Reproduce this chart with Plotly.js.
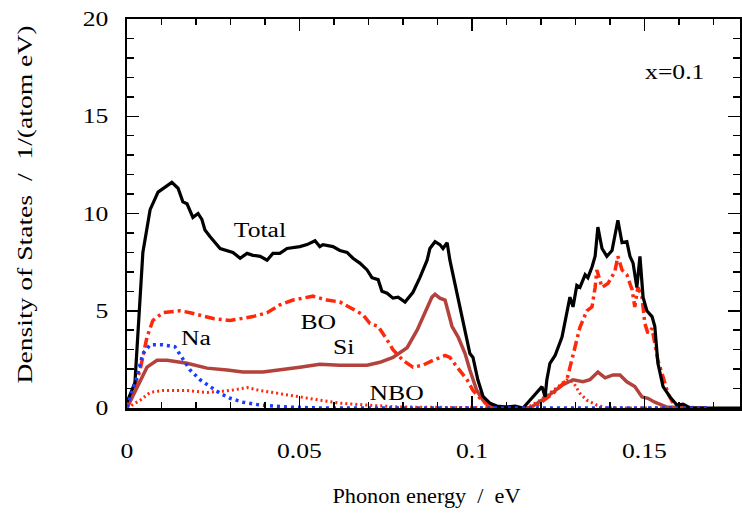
<!DOCTYPE html>
<html><head><meta charset="utf-8">
<script src="https://cdn.plot.ly/plotly-3.0.1.min.js"></script>
<style>html,body{margin:0;padding:0;background:#fff}#plot{width:742px;height:520px}</style>
</head><body><div id="plot"></div>
<script>
// Total DOS
const totalX = [0,0.0023,0.0046,0.0067,0.009,0.013,0.0148,0.0162,0.0174,0.0191,0.0206,0.0217,0.0226,0.0241,0.027,0.029,0.0307,0.0328,0.0348,0.0365,0.0386,0.0406,0.0423,0.0443,0.0464,0.0501,0.0522,0.0545,0.0559,0.0568,0.0597,0.0617,0.0638,0.0655,0.0675,0.0696,0.071,0.0728,0.0739,0.0754,0.0771,0.0786,0.0806,0.0829,0.0849,0.087,0.0878,0.0893,0.0907,0.0916,0.0928,0.0936,0.0951,0.0965,0.098,0.0994,0.1003,0.1017,0.1032,0.1052,0.1072,0.1101,0.1125,0.1148,0.1168,0.1191,0.1203,0.1212,0.1217,0.1226,0.1241,0.1261,0.1275,0.1284,0.1293,0.1304,0.1313,0.1328,0.1336,0.1348,0.1357,0.1365,0.1377,0.1391,0.1406,0.1414,0.1423,0.1435,0.1449,0.1458,0.1467,0.1478,0.1487,0.1496,0.1507,0.1522,0.153,0.1539,0.1554,0.1574,0.1594,0.1612,0.1632,0.1777];
const totalY = [0.3,1.3,8.0,10.2,11.1,11.6,11.3,10.6,10.5,9.8,10.0,9.7,9.15,8.8,8.2,8.1,8.0,7.7,7.95,7.85,7.8,7.6,7.95,7.95,8.2,8.3,8.4,8.6,8.3,8.4,8.3,8.1,8.0,7.7,7.45,7.1,6.7,6.6,6.0,5.9,5.65,5.7,5.45,5.95,6.7,7.6,8.2,8.55,8.4,8.2,8.5,7.6,6.4,5.2,4.0,2.8,2.6,1.45,0.6,0.25,0.1,0.05,0.1,0.0,0.4,0.9,1.1,0.57,1.44,2.3,2.7,3.65,4.9,5.7,5.2,6.3,6.2,6.85,6.7,7.25,7.8,9.3,8.2,7.8,8.1,8.8,9.65,8.5,8.55,7.8,7.45,6.2,7.8,5.7,5.0,4.7,4.2,2.3,1.1,0.57,0.15,0.2,0,0];
// Bridging oxygen
const boX = [0,0.0038,0.0058,0.0075,0.0104,0.0154,0.0183,0.0212,0.025,0.0299,0.0328,0.0365,0.0406,0.0443,0.0481,0.0522,0.0539,0.0559,0.058,0.0617,0.0655,0.0684,0.0704,0.0728,0.0754,0.0771,0.08,0.0829,0.0858,0.0887,0.0922,0.0936,0.0957,0.0986,0.1003,0.1029,0.1052,0.118,0.1197,0.1235,0.1275,0.129,0.1304,0.1313,0.1333,0.1348,0.1357,0.1362,0.1377,0.1394,0.1414,0.1423,0.1435,0.1449,0.1464,0.1472,0.1481,0.1493,0.1501,0.151,0.1522,0.153,0.1539,0.1554,0.1568,0.1583,0.1603,0.1681];
const boY = [0,1.95,3.65,4.5,4.9,5.0,4.9,4.75,4.6,4.5,4.6,4.7,4.9,5.3,5.55,5.7,5.75,5.65,5.55,5.45,5.1,4.8,4.35,4.2,3.5,3.0,2.45,2.1,2.2,2.45,2.7,2.6,2.1,1.45,0.9,0.4,0.05,0,0.25,0.75,1.45,2.45,3.5,4.15,5.0,5.2,6.2,7.1,6.2,6.4,7.0,7.8,7.1,6.85,6.1,5.2,6.2,5.7,4.35,3.85,4.1,3.35,2.45,1.6,0.75,0.25,0,0];
// Silicon
const siX = [0,0.0029,0.0058,0.0087,0.0116,0.0174,0.0232,0.029,0.0336,0.0394,0.0443,0.0501,0.0559,0.0617,0.0696,0.0733,0.0771,0.0812,0.0841,0.0864,0.0884,0.0893,0.0907,0.0922,0.0942,0.096,0.098,0.0994,0.1014,0.1032,0.1061,0.1168,0.1217,0.1264,0.1293,0.1322,0.1342,0.1365,0.1386,0.1409,0.1429,0.1449,0.1472,0.1493,0.151,0.153,0.1565,0.1681];
const siY = [0,1.1,2.1,2.45,2.45,2.3,2.05,1.95,1.85,1.85,1.95,2.1,2.25,2.2,2.2,2.35,2.6,3.1,4.0,4.9,5.7,5.85,5.65,5.55,4.2,3.65,2.8,1.95,0.9,0.4,0.05,0,0.57,1.2,1.45,1.35,1.45,1.85,1.55,1.7,1.7,1.35,1.1,0.57,0.5,0.3,0.05,0];
// Sodium
const naX = [0,0.0029,0.0046,0.0067,0.0104,0.0139,0.0159,0.0183,0.0212,0.0241,0.027,0.0299,0.0336,0.0386,0.0464,0.0559,0.1681];
const naY = [0.05,1.6,2.8,3.25,3.25,3.15,2.6,1.95,1.45,1.1,0.75,0.5,0.3,0.15,0.05,0,0];
// Non-bridging oxygen
const nboX = [0,0.0038,0.0067,0.0104,0.0174,0.0232,0.0299,0.0348,0.0386,0.0443,0.0501,0.0559,0.0617,0.0696,0.0791,0.1159,0.1197,0.1235,0.1275,0.1293,0.1313,0.1333,0.1362,0.1391,0.1681];
const nboY = [0,0.4,0.8,0.9,0.9,0.8,0.9,1.05,0.9,0.75,0.57,0.4,0.25,0.15,0.05,0,0.4,0.9,1.45,1.35,0.75,0.4,0.15,0,0];

const labels = ["Total","BO","Na","Si","NBO","x=0.1"];
const labelX = [0.0386,0.0554,0.020,0.0629,0.078,0.1588];
const labelY = [9.15,4.42,3.6,3.14,0.77,17.28];

const RED = "rgb(255,40,10)";
const traces = [
  {x:nboX,y:nboY,mode:"lines",line:{color:RED,width:3,dash:"2px,3px"}},
  {x:siX,y:siY,mode:"lines",line:{color:"rgb(180,66,60)",width:3.5}},
  {x:boX,y:boY,mode:"lines",line:{color:RED,width:3.5,dash:"10px,4px,3px,4px"}},
  {x:totalX,y:totalY,mode:"lines",line:{color:"#000",width:3.2}},
  {x:naX,y:naY,mode:"lines",line:{color:"rgb(25,60,255)",width:3.5,dash:"3px,4px"}}
];
const F = "Liberation Serif, Times New Roman, serif";
const FS = 20.5;
const axisCommon = {
  showgrid:false, zeroline:false, showline:true, linecolor:"#000", linewidth:2.5,
  mirror:"allticks", ticks:"inside", ticklen:12, tickwidth:1.5, tickcolor:"#000",
  tickfont:{family:F,size:FS,color:"#000"}
};
const layout = {
  width:742, height:520, margin:{l:127,r:2,t:19,b:112},
  paper_bgcolor:"#fff", plot_bgcolor:"#fff", showlegend:false,
  font:{family:F,size:FS,color:"#000"},
  xaxis:Object.assign({}, axisCommon, {
    range:[0,0.1777], tickvals:[0,0.05,0.1,0.15], ticktext:["0","0.05","0.1","0.15"],
    ticklabelstandoff:23,
    minor:{dtick:0.01,tick0:0,ticks:"inside",ticklen:6,tickwidth:1.5,tickcolor:"#000"},
    title:{text:"Phonon energy\u00a0\u00a0/\u00a0\u00a0eV",font:{family:F,size:FS,color:"#000"},standoff:28}
  }),
  yaxis:Object.assign({}, axisCommon, {
    range:[0,20], tickvals:[0,5,10,15,20], ticktext:["0","5","10","15","20"],
    ticklabelstandoff:12,
    minor:{dtick:1,tick0:0,ticks:"inside",ticklen:7,tickwidth:1.5,tickcolor:"#000"},
    title:{text:"Density of States\u00a0\u00a0/\u00a0\u00a01/(atom eV)",font:{family:F,size:FS,color:"#000"},standoff:50}
  }),
  annotations: labels.map((t,i)=>({x:labelX[i],y:labelY[i],xref:"x",yref:"y",text:t,showarrow:false,
    font:{family:F,size:FS,color:"#000"}}))
};
function widen(el, factor, target){
  const w = el.getComputedTextLength();
  if(!w) return;
  el.setAttribute("textLength", target ? target : w*factor);
  el.setAttribute("lengthAdjust","spacingAndGlyphs");
}
Plotly.newPlot("plot", traces, layout, {staticPlot:true}).then(gd=>{
  gd.querySelectorAll(".xtick text, .ytick text, .annotation-text").forEach(t=>widen(t,1.25));
  const xt = gd.querySelector(".g-xtitle text"); if(xt){ widen(xt,1,188); xt.parentNode.setAttribute("transform","translate(-7,0)"); }
  const yt = gd.querySelector(".g-ytitle text"); if(yt){ widen(yt,1,358); yt.parentNode.setAttribute("transform","translate(0,-9)"); }
});
</script></body></html>
